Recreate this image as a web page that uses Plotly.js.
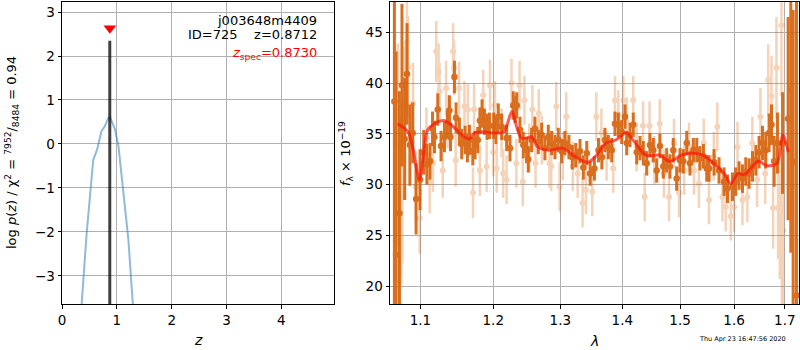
<!DOCTYPE html>
<html>
<head>
<meta charset="utf-8">
<script src="https://cdn.plot.ly/plotly-3.0.1.min.js"></script>
<style>html,body{margin:0;padding:0;background:#fff;}#chart{width:800px;height:350px;}</style>
</head>
<body>
<div id="chart"></div>
<script>
// ---- left panel: p(z) ----
const zGrid = [0.30, 0.36, 0.45, 0.57, 0.64, 0.72, 0.78, 0.845, 0.876, 0.967, 1.03, 1.12, 1.21, 1.29, 1.35];
const logPz = [-4.5, -3.61, -2.02, -0.36, -0.13, 0.29, 0.40, 0.59, 0.61, 0.33, -0.05, -1.04, -2.17, -3.61, -4.7];
const zBest = 0.8712;
const zBestTop = 2.35;
const zSpec = 0.8730;
const zSpecMarkerY = 2.63;

// ---- right panel: spectrum ----
const lamDark = [1.0663,1.0684,1.0727,1.0760,1.0795,1.0825,1.0862,1.0899,1.0943,1.0995,1.1043,1.1085,1.1127,1.1160,1.1186,1.1230,1.1274,1.1320,1.1360,1.1388,1.1402,1.1456,1.1478,1.1524,1.1556,1.1603,1.1635,1.1663,1.1710,1.1742,1.1780,1.1810,1.1840,1.1874,1.1911,1.1945,1.2006,1.2039,
1.2072,1.2121,1.2193,1.2242,1.2290,1.2316,1.2341,1.2389,1.2438,1.2488,1.2512,1.2563,1.2613,1.2663,1.2714,1.2764,1.2815,1.2867,1.2918,1.2969,1.3023,1.3073,1.3135,1.3188,1.3242,1.3310,1.3363,1.3418,1.3472,1.3541,1.3607,1.3662,
1.3713,1.3768,1.3824,1.3878,1.3933,1.3990,1.4045,1.4074,1.4129,1.4184,1.4243,1.4299,1.4356,1.4414,1.4470,1.4528,1.4587,1.4644,1.4703,1.4762,1.4820,1.4879,1.4939,1.4999,1.5058,1.5120,1.5179,1.5240,1.5302,1.5362,1.5424,1.5486,
1.5529,1.5622,1.5715,1.5810,1.5875,1.5969,1.6032,1.6096,1.6161,1.6225,1.6290,1.6356,1.6421,1.6485,1.6552,1.6617,1.6683,1.6731,1.6784,1.6851,1.6954,1.7067,1.7122,1.7170,1.7238];
const fluxDark = [38.2,23.1,27.2,39.8,34.5,40.9,33.9,35.1,28.6,30.5,33.2,32.0,32.3,35.5,34.7,37.4,33.8,34.7,36.0,37.3,34.7,40.6,36.6,35.2,34.0,34.4,33.6,34.4,33.3,33.9,34.4,36.3,37.0,36.2,35.7,35.8,35.8,35.3,
36.7,35.7,34.6,33.6,37.8,37.4,37.8,35.4,33.9,33.4,32.5,34.4,35.5,34.2,34.9,33.6,34.7,34.1,33.7,34.4,33.3,34.1,33.7,32.7,32.9,33.3,31.7,33.1,31.1,31.6,33.4,32.7,
34.4,33.7,33.4,36.0,35.9,35.2,36.7,34.1,34.9,35.9,33.2,33.6,33.1,32.1,33.9,33.4,31.4,33.8,31.8,32.4,31.8,33.4,30.6,32.4,32.3,34.1,32.1,33.4,33.4,32.6,32.8,31.6,
31.6,32.2,31.4,30.3,29.6,29.8,30.3,30.9,30.6,31.3,31.1,31.8,32.4,33.2,34.1,33.4,35.1,35.9,32.3,34.1,34.1,36.5,39.3,32.2,19.1];
const errDark = [20,20,12,8,6,5,4,3,3.5,3,2.2,2,1.8,1.7,1.6,1.6,1.5,1.5,1.4,1.5,1.4,1.6,1.5,1.4,1.5,1.4,1.4,1.5,1.4,1.4,1.3,1.3,1.4,1.3,1.3,1.3,1.3,1.3,
1.3,1.3,1.3,1.3,1.4,1.3,1.3,1.3,1.3,1.3,1.3,1.2,1.2,1.2,1.2,1.2,1.2,1.2,1.2,1.2,1.2,1.2,1.2,1.2,1.2,1.2,1.2,1.2,1.2,1.2,1.2,1.2,
1.2,1.2,1.2,1.2,1.2,1.2,1.2,1.2,1.2,1.2,1.2,1.2,1.2,1.2,1.2,1.2,1.2,1.2,1.2,1.2,1.2,1.2,1.2,1.2,1.2,1.2,1.2,1.2,1.2,1.2,1.2,1.3,
1.3,1.3,1.3,1.4,1.4,1.4,1.4,1.4,1.4,1.4,1.5,1.5,1.5,1.6,1.7,1.8,1.9,2.0,2.5,3.0,5,10,16,15,30];

const lamLight = [1.0707,1.0729,1.0751,1.0764,1.0794,1.0824,1.0837,1.0903,1.0938,1.0991,1.1079,1.1122,1.1166,1.1210,1.1241,1.1254,1.1297,1.1342,1.1363,1.1438,1.1451,1.1473,1.1520,1.1594,1.1641,1.1713,1.1728,1.1809,1.1856,1.1905,1.1953,1.2000,1.2024,1.2049,
1.2120,1.2143,1.2192,1.2264,1.2336,1.2383,1.2431,1.2455,1.2527,1.2574,1.2622,1.2670,1.2717,1.2834,1.2860,1.2938,1.2989,1.3040,1.3093,1.3196,1.3273,1.3351,1.3404,1.3506,1.3572,1.3655,1.3739,1.3849,1.3878,1.3933,
1.4017,1.4074,1.4184,1.4241,1.4351,1.4380,1.4463,1.4547,1.4640,1.4713,1.4803,1.4892,1.4982,1.5072,1.5161,1.5251,1.5341,1.5430,1.5527,1.5618,1.5683,1.5779,1.5841,1.5937,1.6000,1.6065,1.6161,1.6256,1.6352,1.6447,
1.6511,1.6606,1.6665,1.6731,1.6763,1.6831,1.6863,1.6898,1.6932,1.6940,1.6964];
const fluxLight = [33.9,20.5,28.8,30.3,37.7,44.0,41.6,38.0,29.8,26.7,34.6,30.2,32.1,43.1,41.1,39.2,31.4,39.5,36.2,43.1,41.5,32.4,39.5,37.7,37.4,29.2,37.4,31.4,38.8,31.8,39.8,33.2,37.8,31.6,
35.1,31.1,30.5,40.0,32.1,39.8,30.3,38.3,33.6,37.4,32.1,37.0,34.4,32.1,31.8,37.7,29.8,32.8,36.7,31.8,31.1,28.2,29.5,29.3,36.7,35.1,32.8,31.6,38.3,36.9,
38.3,36.2,38.3,33.7,35.8,28.8,35.8,32.4,36.0,31.1,28.8,34.1,29.2,31.4,33.7,31.4,30.1,34.1,28.5,32.8,35.7,28.8,27.8,26.9,27.8,33.7,28.5,28.8,34.1,30.5,
36.7,31.1,40.3,38.7,27.7,41.5,27.7,26.7,45.7,23.7,25.5];
const errLight = [10,10,8,8,6,6,5,4,3.5,3.5,3,3,2.8,3,2.8,2.8,2.7,2.7,2.6,2.8,2.7,2.6,2.6,2.5,2.5,2.5,2.5,2.5,2.5,2.5,2.5,2.4,2.4,2.4,
2.4,2.4,2.4,2.4,2.4,2.4,2.4,2.4,2.4,2.4,2.4,2.4,2.4,2.4,2.4,2.4,2.4,2.4,2.4,2.4,2.4,2.4,2.4,2.4,2.4,2.4,2.4,2.4,2.4,2.4,
2.4,2.4,2.4,2.4,2.4,2.4,2.4,2.4,2.4,2.4,2.4,2.4,2.4,2.4,2.4,2.4,2.4,2.4,2.4,2.4,2.4,2.4,2.4,2.4,2.5,2.5,2.5,2.5,2.6,2.7,
2.8,3,3.5,4,4,5,5,6,7,8,8];

const lamModel = [1.0705,1.0838,1.0899,1.0943,1.0987,1.1053,1.1096,1.1186,1.1320,1.1456,1.1590,1.1660,1.1735,1.1850,1.2000,1.2150,1.2270,1.2340,1.2410,1.2490,1.2560,1.2660,1.2840,1.3040,1.3200,1.3430,1.3560,1.3730,1.3890,1.4070,1.4180,1.4400,1.4640,1.4820,1.5020,1.5230,1.5410,1.5660,1.5810,1.5940,1.6070,1.6200,1.6470,1.6630,1.6840,1.6960,1.7070];
const fluxModel = [36.0,35.2,33.7,31.8,30.5,33.7,35.4,36.0,36.3,35.6,34.7,34.5,35.1,35.2,35.1,35.2,37.2,35.7,34.6,34.6,34.7,33.7,33.4,33.6,32.9,32.2,32.8,34.1,34.4,35.1,34.4,32.9,32.9,32.3,32.9,33.1,32.9,31.9,31.1,30.1,31.1,31.0,32.3,31.9,32.1,34.9,33.2];

const xTicksRight = [1.1, 1.2, 1.3, 1.4, 1.5, 1.6, 1.7];
const xTickTextRight = ['1.1', '1.2', '1.3', '1.4', '1.5', '1.6', '1.7'];
const stamp = 'Thu Apr 23 16:47:56 2020';

const orange = 'rgb(214,96,8)';
const traces = [
  {x: zGrid, y: logPz, xaxis: 'x', yaxis: 'y', mode: 'lines', line: {color: 'rgba(31,119,180,0.5)', width: 2}, hoverinfo: 'skip'},
  {x: [zBest, zBest], y: [-10, zBestTop], xaxis: 'x', yaxis: 'y', mode: 'lines', line: {color: 'rgba(0,0,0,0.75)', width: 3}},
  {x: [zSpec], y: [zSpecMarkerY], xaxis: 'x', yaxis: 'y', mode: 'markers', marker: {symbol: 'triangle-down', size: 11, color: 'red'}},
  {x: lamLight, y: fluxLight, xaxis: 'x2', yaxis: 'y2', mode: 'markers', opacity: 0.28,
   marker: {color: orange, size: 6}, error_y: {type: 'data', array: errLight, visible: true, color: orange, thickness: 2.5, width: 0}},
  {x: lamDark, y: fluxDark, xaxis: 'x2', yaxis: 'y2', mode: 'markers', opacity: 0.9,
   marker: {color: orange, size: 6.5}, error_y: {type: 'data', array: errDark, visible: true, color: orange, thickness: 3, width: 0}},
  {x: lamModel, y: fluxModel, xaxis: 'x2', yaxis: 'y2', mode: 'lines', line: {color: 'rgba(255,20,10,0.7)', width: 3, shape: 'spline', smoothing: 0.9}}
];

const axBase = {showline: true, mirror: true, linecolor: 'black', linewidth: 1, ticks: 'outside', ticklen: 3.5, tickwidth: 1, tickcolor: 'black',
  showgrid: true, gridcolor: '#b0b0b0', gridwidth: 1, zeroline: false, tickfont: {family: 'DejaVu Sans', size: 13.5, color: 'black'}};

const yTop = 1 - 1.5 / 350, yBot = 1 - 304 / 350;
const layout = {
  width: 800, height: 350, margin: {l: 0, r: 0, t: 0, b: 0}, showlegend: false,
  paper_bgcolor: 'white', plot_bgcolor: 'white',
  font: {family: 'DejaVu Sans', color: 'black'},
  xaxis: Object.assign({}, axBase, {domain: [62 / 800, 334 / 800], range: [0, 4.96], tickvals: [0, 1, 2, 3, 4], anchor: 'y'}),
  yaxis: Object.assign({}, axBase, {domain: [yBot, yTop], range: [-3.64, 3.24], tickvals: [-3, -2, -1, 0, 1, 2, 3], anchor: 'x'}),
  xaxis2: Object.assign({}, axBase, {domain: [390 / 800, 799 / 800], type: 'log', range: [0.0256, 0.2378], tickvals: xTicksRight, ticktext: xTickTextRight, anchor: 'y2'}),
  yaxis2: Object.assign({}, axBase, {domain: [yBot, yTop], range: [18.26, 48.03], tickvals: [20, 25, 30, 35, 40, 45], anchor: 'x2'}),
  annotations: [
    {xref: 'paper', yref: 'paper', x: 319 / 800, y: 1 - 20 / 350, xanchor: 'right', yanchor: 'middle', showarrow: false, text: 'j003648m4409', font: {size: 13}},
    {xref: 'paper', yref: 'paper', x: 319 / 800, y: 1 - 35 / 350, xanchor: 'right', yanchor: 'middle', showarrow: false, text: 'ID=725\u00a0\u00a0\u00a0\u00a0z=0.8712', font: {size: 13}},
    {xref: 'paper', yref: 'paper', x: 319 / 800, y: 1 - 54 / 350, xanchor: 'right', yanchor: 'middle', showarrow: false, text: '<i>z</i><sub>spec</sub>=0.8730', font: {size: 13, color: 'red'}},
    {xref: 'paper', yref: 'paper', x: 198 / 800, y: 1 - 340 / 350, xanchor: 'center', yanchor: 'middle', showarrow: false, text: '<i>z</i>', font: {size: 14}},
    {xref: 'paper', yref: 'paper', x: 594 / 800, y: 1 - 341 / 350, xanchor: 'center', yanchor: 'middle', showarrow: false, text: '<i>λ</i>', font: {size: 14}},
    {xref: 'paper', yref: 'paper', x: 12 / 800, y: 1 - 153 / 350, xanchor: 'center', yanchor: 'middle', textangle: -90, showarrow: false,
     text: 'log <i>p</i>(<i>z</i>) / χ<sup>2</sup> = <sup>7952</sup>/<sub>8484</sub> = 0.94', font: {size: 13}},
    {xref: 'paper', yref: 'paper', x: 346 / 800, y: 1 - 154 / 350, xanchor: 'center', yanchor: 'middle', textangle: -90, showarrow: false,
     text: '<i>f</i><sub>λ</sub> × 10<sup>−19</sup>', font: {size: 13}},
    {xref: 'paper', yref: 'paper', x: 742 / 800, y: 1 - 339 / 350, xanchor: 'center', yanchor: 'middle', showarrow: false, text: stamp, font: {size: 6.5}}
  ]
};
Plotly.newPlot('chart', traces, layout, {displayModeBar: false, staticPlot: true});
</script>
</body>
</html>
